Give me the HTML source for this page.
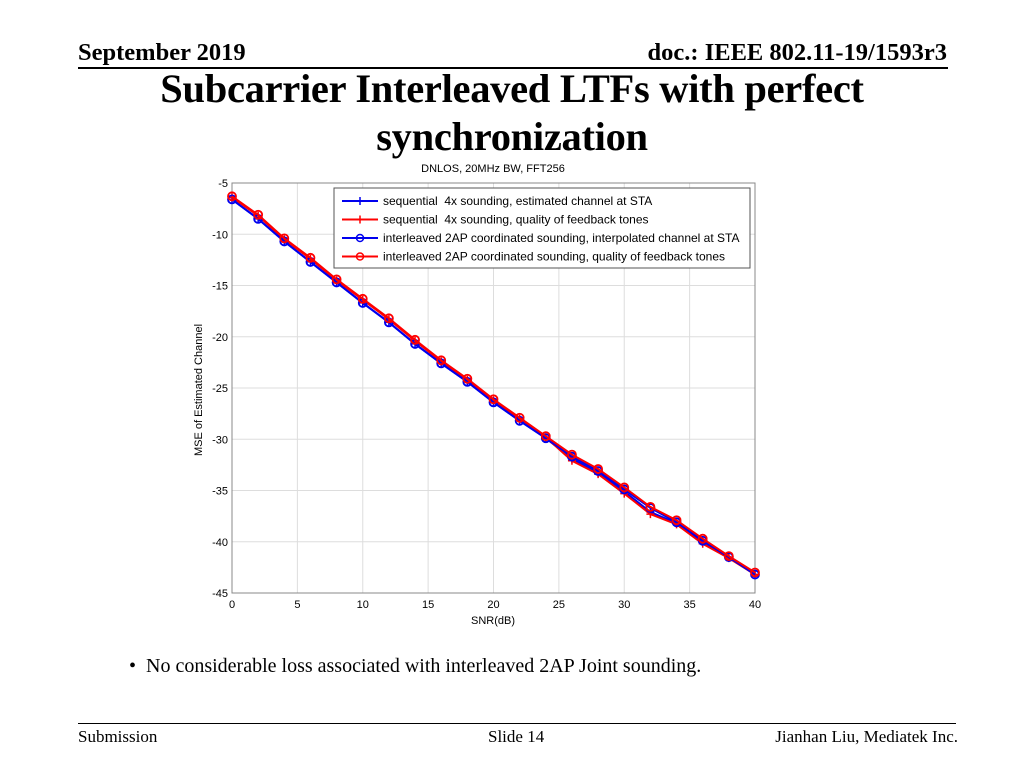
<!DOCTYPE html>
<html><head><meta charset="utf-8"><style>
body{margin:0;width:1024px;height:768px;background:#fff;overflow:hidden;position:relative;font-family:"Liberation Serif",serif}
.a{position:absolute}
</style></head><body>
<div class="a" style="left:78px;top:39px;font-size:24.5px;font-weight:bold">September 2019</div>
<div class="a" style="right:77px;top:39px;font-size:24.5px;font-weight:bold">doc.: IEEE 802.11-19/1593r3</div>
<div class="a" style="left:78px;top:67px;width:870px;height:2px;background:#000"></div>
<div class="a" style="left:0;width:1024px;top:65px;text-align:center;font-size:40.5px;font-weight:bold;line-height:48px;letter-spacing:-0.3px">Subcarrier Interleaved LTFs with perfect<br>synchronization</div>
<svg class="a" style="left:0;top:0" width="1024" height="768" id="ch" font-family="Liberation Sans, sans-serif"></svg>
<div class="a" style="left:129px;top:655px;font-size:20px">•&nbsp; No considerable loss associated with interleaved 2AP Joint sounding.</div>
<div class="a" style="left:78px;top:723px;width:878px;height:1px;background:#000"></div>
<div class="a" style="left:78px;top:727px;font-size:17px">Submission</div>
<div class="a" style="left:488px;top:727px;font-size:17px">Slide 14</div>
<div class="a" style="right:66px;top:727px;font-size:17px">Jianhan Liu, Mediatek Inc.</div>
<script>
const snr=[0,2,4,6,8,10,12,14,16,18,20,22,24,26,28,30,32,34,36,38,40];
const seqEst=[-6.6,-8.5,-10.7,-12.7,-14.7,-16.7,-18.6,-20.7,-22.6,-24.4,-26.4,-28.2,-29.9,-31.9,-33.3,-35.1,-37.1,-38.2,-40.0,-41.5,-43.2];
const seqFb=[-6.4,-8.2,-10.5,-12.4,-14.5,-16.4,-18.3,-20.4,-22.4,-24.2,-26.2,-28.0,-29.8,-32.1,-33.4,-35.3,-37.3,-38.3,-40.2,-41.6,-43.2];
const ilEst=[-6.6,-8.5,-10.7,-12.7,-14.7,-16.7,-18.6,-20.7,-22.6,-24.4,-26.4,-28.2,-29.9,-31.7,-33.1,-34.9,-36.7,-38.1,-39.9,-41.5,-43.2];
const ilFb=[-6.3,-8.1,-10.4,-12.3,-14.4,-16.3,-18.2,-20.3,-22.3,-24.1,-26.1,-27.9,-29.7,-31.5,-32.9,-34.7,-36.6,-37.9,-39.7,-41.4,-43.0];
const xTicks=[0,5,10,15,20,25,30,35,40];
const yTicks=[-5,-10,-15,-20,-25,-30,-35,-40,-45];
const L=232,R=755,T=183,B=593;
const X=v=>L+(v-0)/40*(R-L), Y=v=>T+(-5-v)/40*(B-T);
const s=document.getElementById('ch'),NS='http://www.w3.org/2000/svg';
function el(t,a,p){const e=document.createElementNS(NS,t);for(const k in a)e.setAttribute(k,a[k]);(p||s).appendChild(e);return e;}
let e;
e=el('text',{x:493,y:172,'font-size':11,'text-anchor':'middle'});e.textContent='DNLOS, 20MHz BW, FFT256';


xTicks.forEach(v=>{
 e=el('line',{x1:X(v),x2:X(v),y1:T,y2:B,stroke:'#ddd','stroke-width':1});
 
 
 e=el('text',{x:X(v),y:B+15,'font-size':11,'text-anchor':'middle'});e.textContent=v;
 
 
});
yTicks.forEach(v=>{
 e=el('line',{x1:L,x2:R,y1:Y(v),y2:Y(v),stroke:'#ddd','stroke-width':1});
 
 
 e=el('text',{x:L-4,y:Y(v)+4,'font-size':11,'text-anchor':'end'});e.textContent=v;
 
 
});
e=el('rect',{x:L,y:T,width:R-L,height:B-T,fill:'none',stroke:'#888','stroke-width':1});


e=el('text',{x:493,y:624,'font-size':11,'text-anchor':'middle'});e.textContent='SNR(dB)';


e=el('text',{x:202,y:390,'font-size':11,'text-anchor':'middle',transform:'rotate(-90 202 390)'});e.textContent='MSE of Estimated Channel';


const series=[[seqEst,'#0000ee','plus','seq-est'],[seqFb,'#ff0000','plus','seq-fb'],[ilEst,'#0000ee','circle','il-est'],[ilFb,'#ff0000','circle','il-fb']];
series.forEach(([d,c,m,n])=>{
 e=el('polyline',{points:d.map((v,i)=>X(snr[i])+','+Y(v)).join(' '),fill:'none',stroke:c,'stroke-width':2});
 
 
 d.forEach((v,i)=>{
  if(m=='circle'){e=el('circle',{cx:X(snr[i]),cy:Y(v),r:4,fill:'none',stroke:c,'stroke-width':1.8});}
  else{e=el('path',{d:`M${X(snr[i])-4},${Y(v)}h8M${X(snr[i])},${Y(v)-4}v8`,stroke:c,'stroke-width':1.5});}
  
  
 });
});
e=el('rect',{x:334,y:188,width:416,height:80,fill:'#fff',stroke:'#555','stroke-width':1});


const labels=['sequential  4x sounding, estimated channel at STA','sequential  4x sounding, quality of feedback tones','interleaved 2AP coordinated sounding, interpolated channel at STA','interleaved 2AP coordinated sounding, quality of feedback tones'];
labels.forEach((t,i)=>{
 const y=201+i*18.5,c=series[i][1];
 e=el('line',{x1:342,x2:378,y1:y,y2:y,stroke:c,'stroke-width':2});
 
 
 if(series[i][2]=='circle')el('circle',{cx:360,cy:y,r:3.5,fill:'none',stroke:c,'stroke-width':1.5});
 else el('path',{d:`M360,${y-4}v8`,stroke:c,'stroke-width':1.5});
 e=el('text',{x:383,y:y+4,'font-size':12,'style':'white-space:pre'});e.textContent=t;
 
 
});
</script>
</body></html>
